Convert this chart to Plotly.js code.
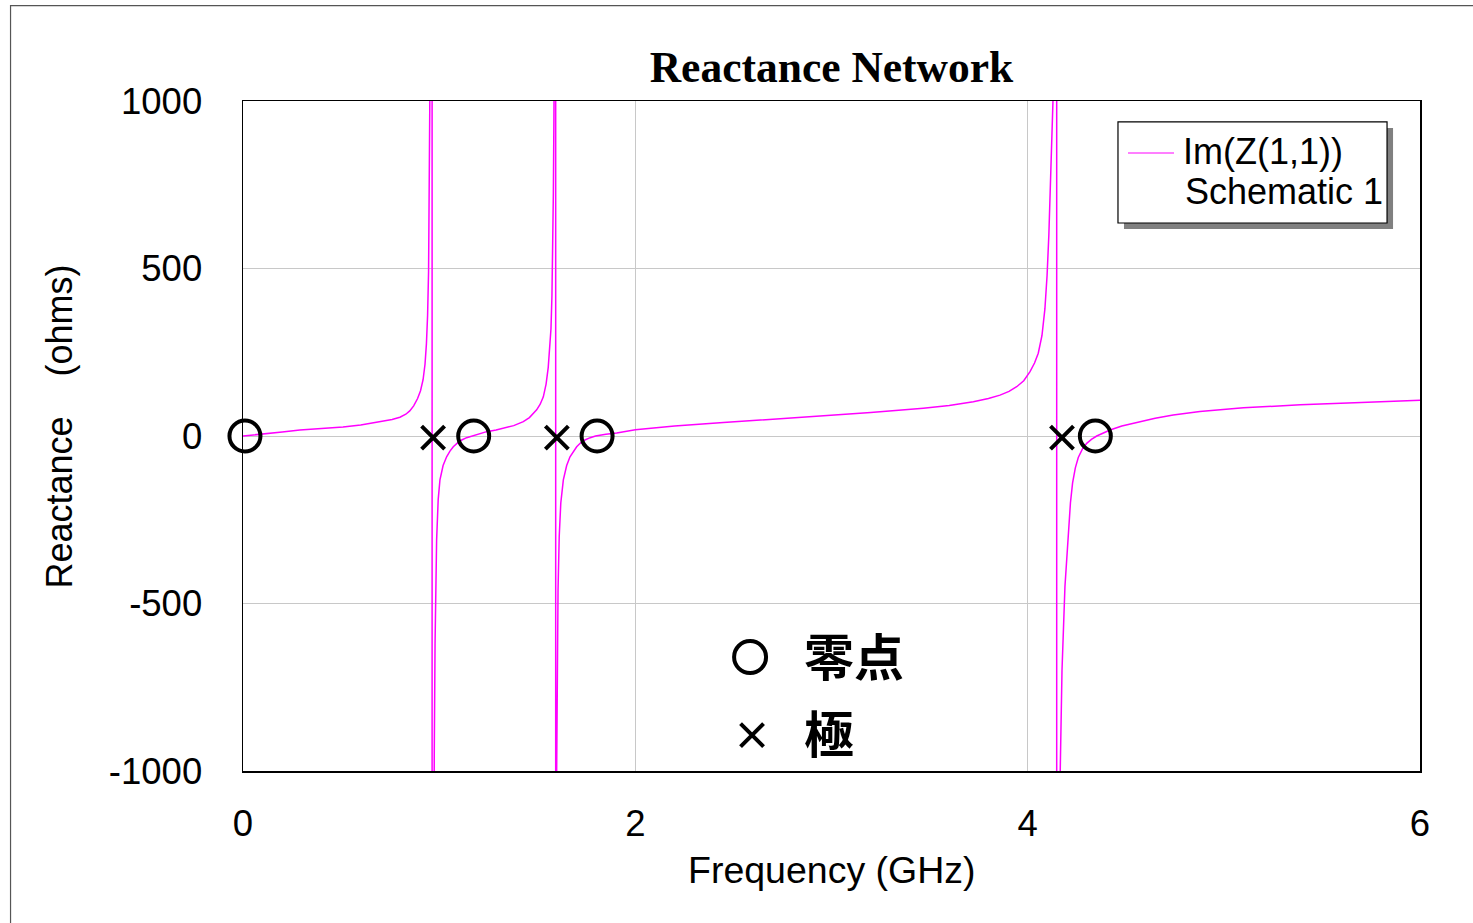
<!DOCTYPE html>
<html>
<head>
<meta charset="utf-8">
<script src="https://cdn.plot.ly/plotly-3.0.1.min.js"></script>
<style>html,body{margin:0;padding:0;background:#fff;}#chart{width:1473px;height:923px;}</style>
</head>
<body>
<div id="chart"></div>
<script>
// Frequency (GHz) and reactance (ohms)
const freqGHz = [
  0, 0.1, 0.2, 0.29, 0.4, 0.51, 0.6, 0.714, 0.76, 0.80, 0.83, 0.85, 0.87, 0.89, 0.905, 0.918, 0.928, 0.935, 0.941, 0.946, 0.950, 0.953, 0.956, 0.9635,
  0.9645, 0.968, 0.972, 0.975, 0.979, 0.983, 0.987, 0.995, 1.004, 1.02, 1.038, 1.055, 1.072, 1.095, 1.115, 1.14, 1.166, 1.2, 1.242, 1.29, 1.327, 1.38, 1.429, 1.46, 1.497, 1.515, 1.531, 1.545, 1.556, 1.564, 1.570, 1.575, 1.579, 1.582, 1.585, 1.587, 1.5935,
  1.5945, 1.597, 1.599, 1.602, 1.606, 1.612, 1.62, 1.633, 1.65, 1.667, 1.685, 1.701, 1.72, 1.743, 1.77, 1.797, 1.85, 1.905, 2.0, 2.2, 2.449, 2.7, 2.958, 3.2, 3.468, 3.6, 3.723, 3.8, 3.859, 3.905, 3.944, 3.98, 4.012, 4.035, 4.054, 4.073, 4.088, 4.099, 4.108, 4.115, 4.122, 4.129, 4.135, 4.1475,
  4.1485, 4.158, 4.163, 4.166, 4.175, 4.19, 4.207, 4.218, 4.229, 4.243, 4.258, 4.28, 4.301, 4.325, 4.352, 4.385, 4.42, 4.48, 4.573, 4.65, 4.742, 4.878, 5.1, 5.39, 5.7, 6.0
];
const reactance = [
  0, 5, 12, 18, 22, 27, 33, 43, 49, 56, 65, 75, 90, 112, 135, 168, 215, 275, 360, 490, 680, 900, 1300, 30000,
  -30000, -2500, -1200, -950, -620, -430, -310, -190, -131, -88, -62, -45, -32, -20, -12, -5, 0, 7, 13, 18, 23, 31, 43, 55, 78, 95, 117, 155, 205, 260, 320, 420, 560, 720, 950, 1200, 30000,
  -30000, -1800, -1000, -700, -460, -300, -200, -131, -88, -62, -44, -32, -21, -12, -5, 0, 5, 9, 19, 30, 40, 50, 60, 70, 83, 91, 102, 112, 122, 133, 147, 165, 192, 218, 247, 300, 380, 480, 600, 720, 850, 1000, 1250, 30000,
  -30000, -2000, -1200, -1000, -700, -450, -290, -200, -140, -95, -64, -38, -22, -10, 0, 9, 18, 30, 43, 53, 63, 73, 84, 93, 100, 107
];
// Zeros (circles) and poles (crosses)
const zerosGHz = [0.01, 1.176, 1.805, 4.345];
const zerosVal = [0, 0, 0, 0];
const polesGHz = [0.969, 1.60, 4.175];
const polesVal = [-5, -5, -5];
// Key markers inside plot
const keyCircle = {x: [2.585], y: [-660]};
const keyCross = {x: [2.595], y: [-893]};
const keyLabels = ['零点', '極'];
const xTicks = [0, 2, 4, 6];
const xTickText = ['0', '2', '4', '6'];
const yTicks = [-1000, -500, 0, 500, 1000];
const yTickText = ['-1000', '-500', '0', '500', '1000'];

const mag = '#ff00ff';
const mk = (x, y, sym, size) => ({x: x, y: y, type: 'scatter', mode: 'markers', cliponaxis: false,
  marker: {symbol: sym, size: size, color: '#000', line: {width: 4, color: '#000'}}, showlegend: false, hoverinfo: 'skip'});
const traces = [
  {x: freqGHz, y: reactance, type: 'scatter', mode: 'lines', line: {color: mag, width: 1.5}, showlegend: false, hoverinfo: 'skip'},
  mk(zerosGHz, zerosVal, 'circle-open', 31),
  mk(polesGHz, polesVal, 'x-thin-open', 23),
  mk(keyCircle.x, keyCircle.y, 'circle-open', 32),
  mk(keyCross.x, keyCross.y, 'x-thin-open', 23)
];

const sans = 'Liberation Sans, Arial, sans-serif';
const cjk = 'Noto Sans CJK JP, sans-serif';
const layout = {
  width: 1473, height: 923,
  margin: {l: 243, r: 53, t: 101, b: 152, pad: 0},
  paper_bgcolor: '#fff', plot_bgcolor: '#fff',
  font: {family: sans, size: 36, color: '#000'},
  title: {text: 'Reactance Network', font: {family: 'Liberation Serif, Times New Roman, serif', size: 43.5, weight: 'bold', color: '#000'},
          x: 0.5, xref: 'paper', xanchor: 'center', y: 1 - 67/923, yref: 'container', yanchor: 'middle'},
  showlegend: false,
  xaxis: {range: [0, 6], tickvals: xTicks, ticktext: xTickText, ticks: '', showgrid: true, gridcolor: '#c8c8c8', gridwidth: 1,
          zeroline: false, showline: true, linecolor: '#000', linewidth: 1.5, mirror: true, ticklabelstandoff: 20,
          tickfont: {family: sans, size: 36.5, color: '#000'}},
  yaxis: {range: [-1000, 1000], tickvals: yTicks, ticktext: yTickText, ticks: '', showgrid: true, gridcolor: '#c8c8c8', gridwidth: 1,
          zeroline: false, showline: true, linecolor: '#000', linewidth: 1.5, mirror: true, ticklabelstandoff: 32,
          tickfont: {family: sans, size: 36.5, color: '#000'}},
  shapes: [
    {type: 'rect', xref: 'paper', yref: 'paper', x0: -0.1975, x1: 1.2, y0: -0.4, y1: 1.1425, line: {color: '#555', width: 1.2}, fillcolor: 'rgba(0,0,0,0)', layer: 'below'},
    {type: 'rect', xref: 'paper', yref: 'paper', x0: 0.7485, x1: 0.9771, y0: 0.8090, y1: 0.9597, line: {width: 0}, fillcolor: '#808080', layer: 'above'},
    {type: 'rect', xref: 'paper', yref: 'paper', x0: 0.7434, x1: 0.9720, y0: 0.8179, y1: 0.9687, line: {color: '#000', width: 1.2}, fillcolor: '#fff', layer: 'above'},
    {type: 'line', xref: 'paper', yref: 'paper', x0: 0.7519, x1: 0.7910, y0: 0.9224, y1: 0.9224, line: {color: mag, width: 1.2}, layer: 'above'}
  ],
  annotations: [
    {text: 'Im(Z(1,1))', xref: 'paper', yref: 'paper', x: 0.7966, y: 0.9239, xanchor: 'left', yanchor: 'middle', showarrow: false, font: {family: sans, size: 36, color: '#000'}},
    {text: 'Schematic 1', xref: 'paper', yref: 'paper', x: 0.7983, y: 0.8642, xanchor: 'left', yanchor: 'middle', showarrow: false, font: {family: sans, size: 36, color: '#000'}},
    {text: 'Frequency (GHz)', xref: 'paper', yref: 'paper', x: 0.5, y: -0.1478, xanchor: 'center', yanchor: 'middle', showarrow: false, font: {family: sans, size: 37.5, color: '#000'}},
    {text: 'Reactance\u00a0\u00a0\u00a0\u00a0(ohms)', xref: 'paper', yref: 'paper', x: -0.1555, y: 0.514, xanchor: 'center', yanchor: 'middle', textangle: -90, showarrow: false, font: {family: sans, size: 36, color: '#000'}},
    {text: keyLabels[0], xref: 'x', yref: 'y', x: 2.85, y: -650, xanchor: 'left', yanchor: 'middle', showarrow: false, font: {family: cjk, size: 50, weight: 'bold', color: '#000'}},
    {text: keyLabels[1], xref: 'x', yref: 'y', x: 2.85, y: -880, xanchor: 'left', yanchor: 'middle', showarrow: false, font: {family: cjk, size: 50, weight: 'bold', color: '#000'}}
  ]
};
Plotly.newPlot('chart', traces, layout, {displayModeBar: false, staticPlot: true});
</script>
</body>
</html>
